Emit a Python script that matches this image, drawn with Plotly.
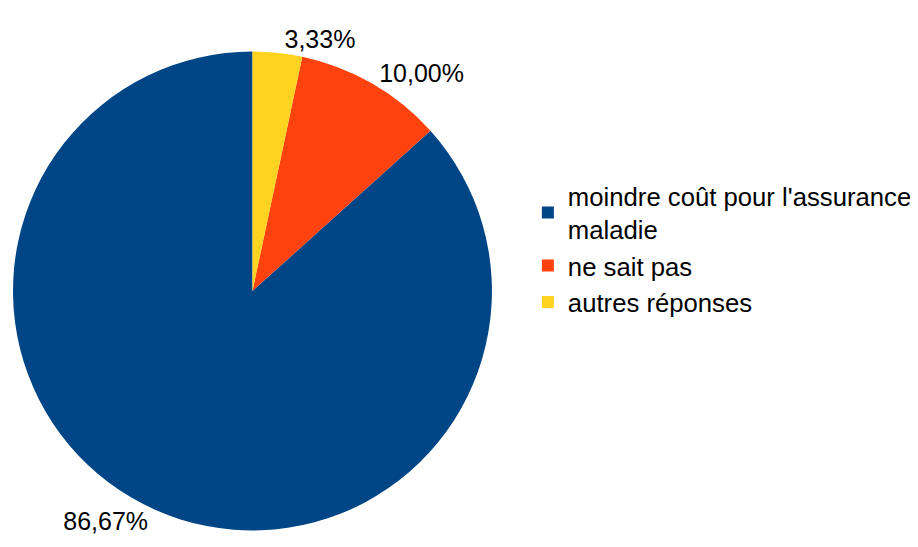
import plotly.graph_objects as go

labels = ["moindre coût pour l'assurance<br>maladie", "ne sait pas", "autres réponses"]
values = [26, 3, 1]
colors = ["#004586", "#ff420e", "#ffd320"]

W, H = 918, 547
cx, cy, r = 243, 283, 240

fig = go.Figure(go.Pie(
    labels=labels,
    values=values,
    sort=False,
    direction="counterclockwise",
    rotation=48,
    marker=dict(colors=colors, line=dict(width=0)),
    textposition="outside",
    texttemplate="%{percent:.2%}",
    textfont=dict(family="Liberation Sans, Arial, sans-serif", size=25, color="#000000"),
    hoverinfo="label+percent",
    domain=dict(x=[(cx - r) / W, (cx + r) / W], y=[1 - (cy + r) / H, 1 - (cy - r) / H]),
    showlegend=True,
))

fig.update_layout(
    width=W, height=H,
    margin=dict(l=0, r=0, t=0, b=0),
    paper_bgcolor="white",
    plot_bgcolor="white",
    separators=", ",
    font=dict(family="Liberation Sans, Arial, sans-serif", size=25, color="#000000"),
    legend=dict(x=519 / W, y=1 - 241 / H, xanchor="left", yanchor="middle",
                font=dict(size=25.7), tracegroupgap=0, itemwidth=30),
)

fig.write_html("out.html")
